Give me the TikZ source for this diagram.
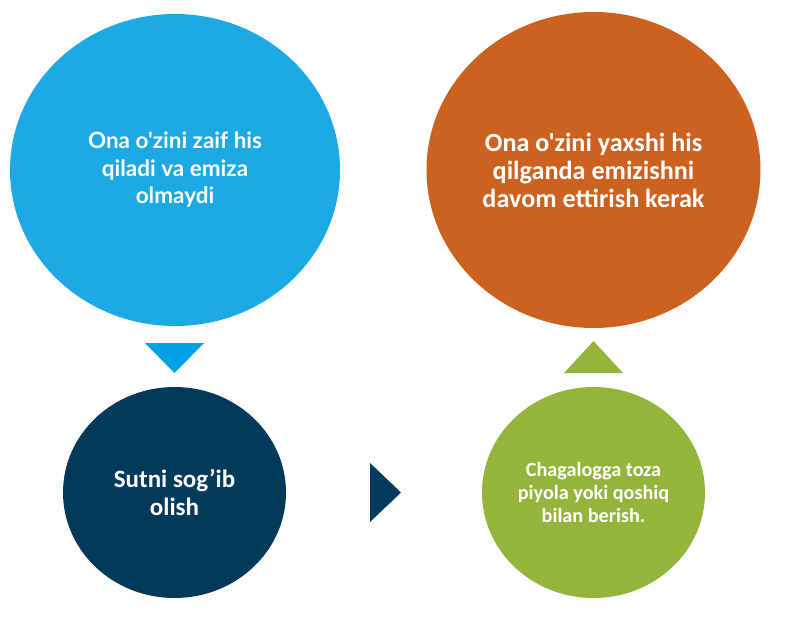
\documentclass[tikz,border=0pt]{standalone}
\usepackage{fontspec}
\setmainfont{Carlito}[Ligatures=TeXOff]
\newfontfamily\latofont{Lato}[Ligatures=TeXOff]
\definecolor{cblue}{HTML}{1DA9E3}
\definecolor{tblue}{HTML}{02A3E6}
\definecolor{corange}{HTML}{CC621F}
\definecolor{cnavy}{HTML}{033A5C}
\definecolor{cgreen}{HTML}{94B53C}
\tikzset{
  blob/.style={ellipse, inner sep=0pt, draw=none, align=center, text=white, font=\bfseries},
  blobtext/.style={align=center, text=white},
}
\usetikzlibrary{shapes.geometric}
\begin{document}
\begin{tikzpicture}[x=1pt,y=-1pt]
\useasboundingbox (0,0) rectangle (788,633);
\node[blob, fill=cblue, minimum width=330, minimum height=312] (a) at (175,170) {};
\node[blobtext, font=\latofont\bfseries\fontsize{22.5}{27.5}\selectfont] (at) at (a.center)
  {Ona o'zini zaif his\\qiladi va emiza\\olmaydi};
\node[blob, fill=corange, minimum width=334, minimum height=316] (b) at (593.5,170) {};
\node[blobtext, font=\bfseries\fontsize{26.2}{28}\selectfont] (bt) at (b.center)
  {Ona o'zini yaxshi his\\qilganda emizishni\\davom ettirish kerak};
\node[blob, fill=cnavy, minimum width=223, minimum height=211] (c) at (174.5,492.5) {};
\node[blobtext, font=\bfseries\fontsize{25}{28}\selectfont] (ct) at (c.center)
  {Sutni sog’ib\\olish};
\node[blob, fill=cgreen, minimum width=223, minimum height=211] (d) at (593.5,492.5) {};
\node[blobtext, font=\bfseries\fontsize{20.2}{23}\selectfont] (dt) at (d.center)
  {Chagalogga toza\\piyola yoki qoshiq\\bilan berish.};
\coordinate (t1a) at (145,343); \coordinate (t1b) at (204,343); \coordinate (t1c) at (174.5,373);
\fill[tblue] (t1a) -- (t1b) -- (t1c) -- cycle;
\coordinate (t2a) at (370,463); \coordinate (t2b) at (370,522); \coordinate (t2c) at (401,492.5);
\fill[cnavy] (t2a) -- (t2b) -- (t2c) -- cycle;
\coordinate (t3a) at (564,373); \coordinate (t3b) at (623,373); \coordinate (t3c) at (593.5,341);
\fill[cgreen] (t3a) -- (t3b) -- (t3c) -- cycle;
\end{tikzpicture}
\end{document}
